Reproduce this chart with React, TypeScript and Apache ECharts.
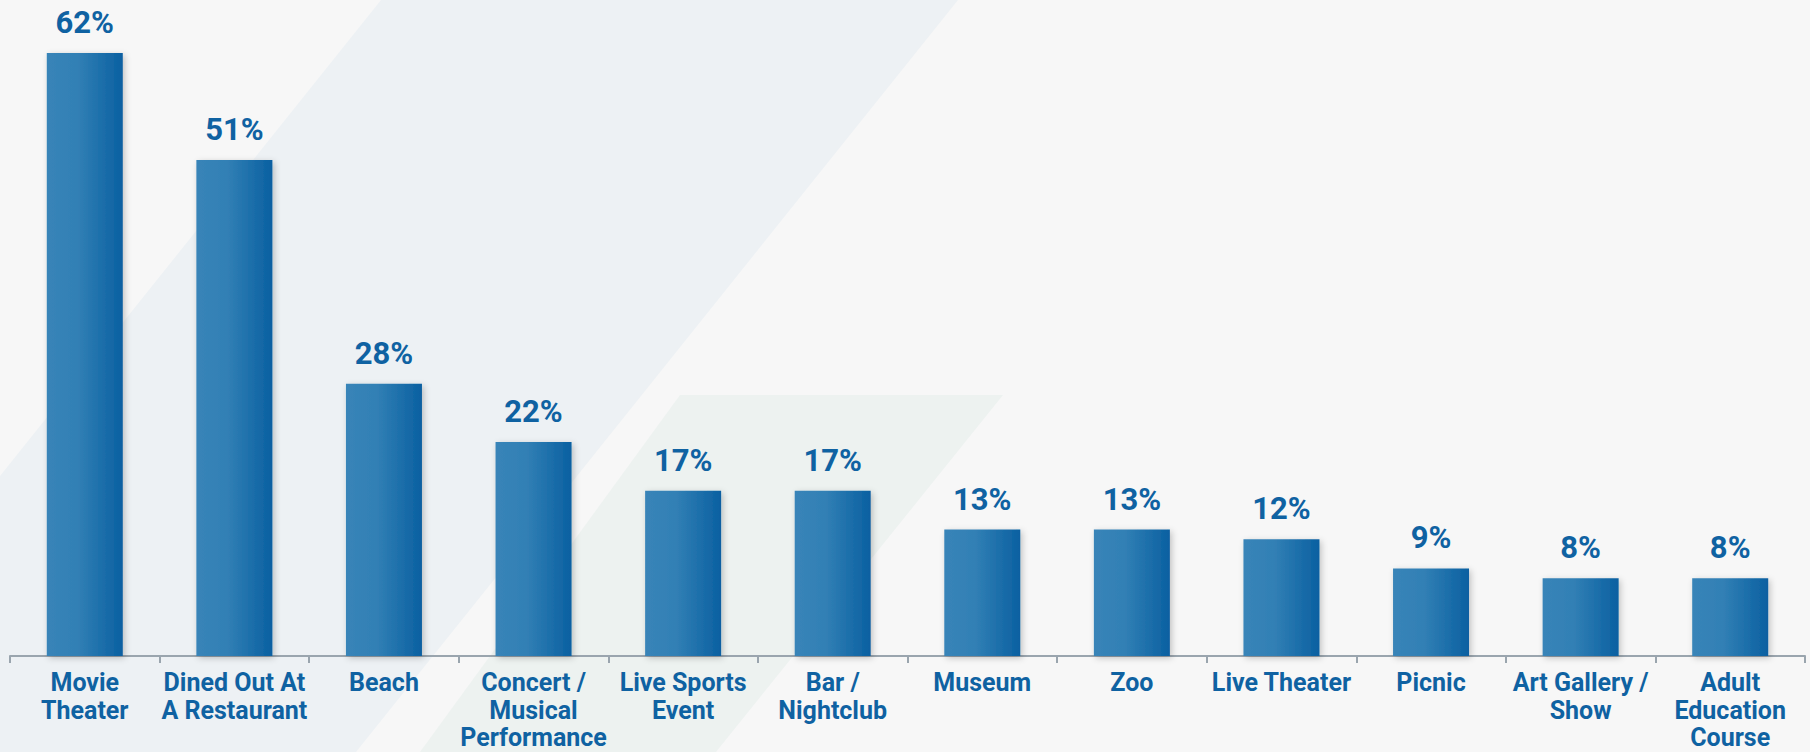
import React, { useEffect, useRef } from "react";
import * as echarts from "echarts";

const categories: string[] = [
  "Movie\nTheater",
  "Dined Out At\nA Restaurant",
  "Beach",
  "Concert /\nMusical\nPerformance",
  "Live Sports\nEvent",
  "Bar /\nNightclub",
  "Museum",
  "Zoo",
  "Live Theater",
  "Picnic",
  "Art Gallery /\nShow",
  "Adult\nEducation\nCourse",
];

const values: number[] = [62, 51, 28, 22, 17, 17, 13, 13, 12, 9, 8, 8];

const W = 1810;
const H = 752;

export default function App() {
  const ref = useRef<HTMLDivElement>(null);

  useEffect(() => {
    if (!ref.current) return;
    const chart = echarts.init(ref.current, null, { renderer: "svg", width: W, height: H });
    const textColor = "#0f62a2";
    chart.setOption({
      animation: false,
      backgroundColor: "#f7f7f7",
      graphic: [
        {
          type: "polygon",
          silent: true,
          z: -10,
          shape: { points: [[381, 0], [958, 0], [356, 752], [0, 752], [0, 476]] },
          style: { fill: "#edf1f4" },
        },
        {
          type: "polygon",
          silent: true,
          z: -10,
          shape: { points: [[680, 395], [1003, 395], [716, 752], [420, 752]] },
          style: { fill: "#edf2f0" },
        },
      ],
      grid: {
        left: 10,
        right: 5,
        top: 53,
        bottom: 96,
        containLabel: false,
        outerBoundsMode: "none",
      },
      xAxis: {
        type: "category",
        data: categories,
        boundaryGap: true,
        axisLine: { show: true, lineStyle: { color: "#9aa5ae", width: 2 } },
        axisTick: { show: true, length: 7, lineStyle: { color: "#9aa5ae", width: 2 } },
        axisLabel: {
          interval: 0,
          margin: 13,
          color: textColor,
          fontFamily: "Roboto, 'Noto Sans', sans-serif",
          fontWeight: "bold",
          fontSize: 25,
          lineHeight: 27.5,
          align: "center",
        },
      },
      yAxis: {
        type: "value",
        min: 0,
        max: 62,
        show: false,
        splitLine: { show: false },
      },
      series: [
        {
          type: "bar",
          data: values,
          barWidth: 76,
          itemStyle: {
            color: new echarts.graphic.LinearGradient(0, 0, 1, 0, [
              { offset: 0, color: "#3884b8" },
              { offset: 0.4, color: "#3280b5" },
              { offset: 1, color: "#0a60a1" },
            ]),
            shadowBlur: 6,
            shadowColor: "rgba(0,0,0,0.22)",
            shadowOffsetX: 2,
            shadowOffsetY: 2,
          },
          label: {
            show: true,
            position: "top",
            distance: 15,
            formatter: "{c}%",
            color: textColor,
            fontFamily: "Roboto, 'Noto Sans', sans-serif",
            fontWeight: "bold",
            fontSize: 31,
          },
        },
      ],
    });
    return () => chart.dispose();
  }, []);

  return (
    <div
      ref={ref}
      style={{ position: "absolute", left: 0, top: 0, width: W, height: H }}
    />
  );
}
